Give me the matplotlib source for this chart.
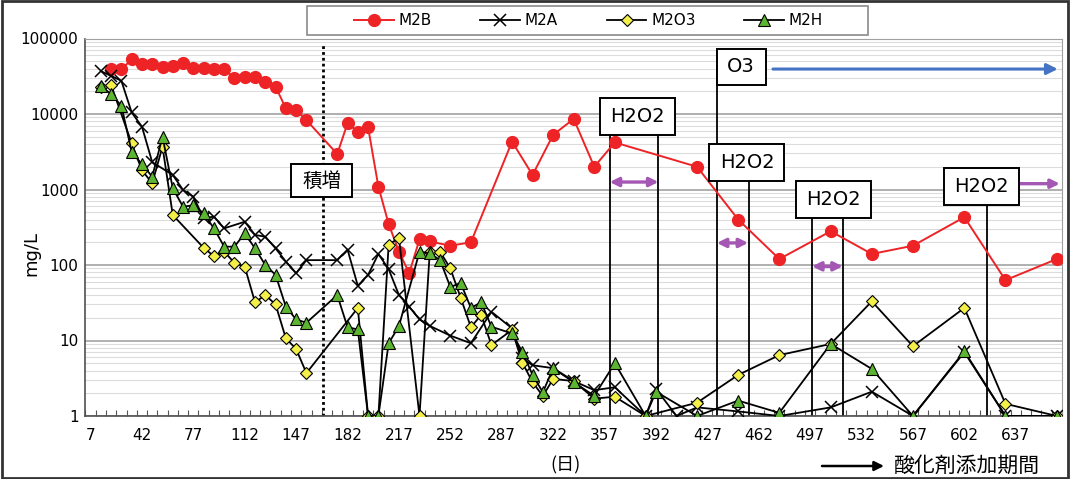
import matplotlib
matplotlib.use("Agg")
from matplotlib import pyplot as plt
from matplotlib import transforms as mtransforms
from matplotlib.patches import Rectangle
from matplotlib.lines import Line2D
from matplotlib.ticker import LogLocator, NullFormatter, FixedLocator

plt.rcParams['font.family'] = ['DejaVu Sans', 'Noto Sans CJK JP']
JP = ['Noto Sans CJK JP', 'DejaVu Sans']

# measured concentrations (mg/L) by elapsed day
days_m2b = [21, 28, 35, 42, 49, 56, 63, 70, 77, 84, 91, 98, 105, 112, 119, 126, 133, 140, 147, 154,
            175, 182, 189, 196, 203, 210, 217, 224, 231, 238, 252, 266, 294, 308, 322, 336, 350, 364, 420, 448,
            476, 511, 539, 567, 602, 630, 665]
m2b = [39000, 39000, 53000, 45500, 45500, 42300, 43700, 46800, 41000, 40300, 39000, 39000, 30200, 31200, 31200,
       26800, 23000, 11900, 11300, 8300, 2950, 7540, 5840, 6670, 1090, 349, 150, 78, 219, 205, 180, 200, 4300,
       1560, 5300, 8600, 2000, 4200, 2000, 400, 120, 280, 140, 180, 430, 63, 120]

days_m2a = [14, 21, 28, 35, 42, 49, 63, 70, 77, 84, 91, 98, 112, 119, 126, 133, 140, 147, 154, 175,
            182, 189, 196, 203, 210, 217, 224, 231, 238, 252, 266, 280, 294, 301, 308, 322, 336, 350, 364, 385,
            392, 406, 420, 448, 476, 511, 539, 567, 602, 630, 665]
m2a = [37000, 32000, 27500, 10500, 6800, 2300, 1560, 985, 804, 417, 437, 306, 374, 250, 237, 166, 111, 78, 116, 116,
       160, 53, 74, 140, 88, 40, 28, 19, 15.6, 11.6, 9.2, 24, 14.5, 5.8, 4.7, 4.3, 2.9, 2.2, 2.4, 1,
       2.3, 1, 1.3, 1.15, 1, 1.3, 2.1, 1, 7, 1, 1]

days_m2o3 = [14, 21, 35, 42, 49, 56, 63, 84, 91, 98, 105, 112, 119, 126, 133, 140, 147, 154, 189, 196,
             203, 210, 217, 231, 238, 245, 252, 259, 266, 273, 280, 294, 301, 308, 315, 322, 336, 350, 364, 385,
             420, 448, 476, 511, 539, 567, 602, 630, 665]
m2o3 = [23000, 24200, 4100, 1800, 1210, 3690, 459, 169, 131, 150, 107, 95, 32, 40, 30, 10.7, 7.7, 3.7, 27, 1,
        1, 185, 230, 1, 150, 150, 90, 37, 15, 21.8, 8.7, 13.8, 5.1, 2.8, 1.84, 3.1, 2.9, 1.7, 1.8, 1,
        1.5, 3.5, 6.4, 9, 33, 8.4, 27, 1.45, 1]

days_m2h = [14, 21, 28, 35, 42, 49, 56, 63, 70, 77, 84, 91, 98, 105, 112, 119, 126, 133, 140, 147,
            154, 175, 182, 189, 196, 203, 210, 217, 231, 238, 245, 252, 259, 266, 273, 280, 294, 301, 308, 315,
            322, 336, 350, 364, 385, 392, 420, 448, 476, 511, 539, 567, 602, 630, 665]
m2h = [23700, 18200, 12900, 3160, 2160, 1480, 5000, 1040, 590, 620, 484, 306, 175, 175, 263, 166, 100, 74, 28, 19,
       17.2, 40, 15, 14, 1, 1, 9.2, 15.5, 150, 143, 116, 51, 58, 27, 32, 15.2, 12.4, 7.1, 3.5, 2.06,
       4.3, 2.8, 1.85, 5.0, 1, 2.1, 1, 1.6, 1.1, 9, 4.2, 1, 7.2, 1, 1]

tick_days = list(range(7, 638, 35))
y_ticks = [1, 10, 100, 1000, 10000, 100000]

# oxidant dosing periods: (label, box centre day, box centre value, line days)
h2o2_periods = [
    ("H2O2", 379.5, 9400, [360.5, 393.7]),
    ("H2O2", 454.0, 2300, [455.1]),
    ("H2O2", 512.6, 740, [498.4, 519.2]),
    ("H2O2", 613.6, 1096, [617.7]),
]

RED = '#ee2326'
PURPLE = '#a458b4'
BLUE = '#4472c4'

fig = plt.figure(figsize=(10.7, 4.79), dpi=100)
ax = fig.add_axes([85.4 / 1070, 1 - 416 / 479, (1062 - 85.4) / 1070, (416 - 38.5) / 479])
ax.set_yscale('log')
ax.set_xlim(3.5, 668.5)
ax.set_ylim(1, 1e5)

ax.plot(days_m2b, m2b, color=RED, lw=1.4, marker='o', ms=8.5, mec=RED, mfc=RED, zorder=3, label='M2B')
ax.plot(days_m2a, m2a, color='black', lw=1.3, marker='x', ms=8, mew=1.1, zorder=3, label='M2A')
ax.plot(days_m2o3, m2o3, color='black', lw=1.3, marker='D', ms=6.5, mfc='#f4f04a', mec='black', mew=0.8,
        zorder=3, label='M2O3')
ax.plot(days_m2h, m2h, color='black', lw=1.3, marker='^', ms=8.5, mfc='#5cb531', mec='black', mew=0.8,
        zorder=3, label='M2H')


def label_box(day, val, text, w, h, fontsize=14, family=None):
    trans = fig.dpi_scale_trans + mtransforms.ScaledTranslation(day, val, ax.transData)
    ax.add_patch(Rectangle((-w / 200, -h / 200), w / 100, h / 100, transform=trans,
                           fc='white', ec='black', lw=1.4, zorder=6, clip_on=False))
    ax.text(day, val, text, ha='center', va='center', fontsize=fontsize, zorder=7,
            family=family if family else ['DejaVu Sans'])


# accumulation start
ax.vlines(165.5, 1, 82000, colors='black', linestyles=(0, (1, 1.1)), lw=2, zorder=2)
label_box(164.3, 1300, '積増', 61, 33, fontsize=14, family=JP)

# H2O2 dosing periods
for name, bday, bval, lines in h2o2_periods:
    for d in lines:
        ax.vlines(d, 1, bval, colors='black', lw=1.3, zorder=2)
    label_box(bday, bval, name, 75, 37)

# O3 dosing
ax.vlines(433.3, 1, 42000, colors='black', lw=1.3, zorder=2)
label_box(450.0, 42000, 'O3', 49, 36)
ax.annotate('', xy=(667.5, 39400), xytext=(469.8, 39400),
            arrowprops=dict(arrowstyle='-|>', color=BLUE, lw=2.2, mutation_scale=16), zorder=5)

# purple arrows marking H2O2 dosing spans
for x0, x1, yv in [(360.5, 393.7, 1256), (433.5, 454.8, 196), (498.3, 519.2, 96)]:
    ax.annotate('', xy=(x1, yv), xytext=(x0, yv),
                arrowprops=dict(arrowstyle='<|-|>', color=PURPLE, lw=2.4, mutation_scale=13,
                                shrinkA=0, shrinkB=0), zorder=5)
ax.annotate('', xy=(667.0, 1194), xytext=(639.2, 1194),
            arrowprops=dict(arrowstyle='-|>', color=PURPLE, lw=2.4, mutation_scale=13,
                            shrinkA=0, shrinkB=0), zorder=5)

# axes styling
ax.set_yticks(y_ticks)
ax.set_yticklabels([str(v) for v in y_ticks], fontsize=11)
ax.yaxis.set_minor_locator(LogLocator(subs=range(2, 10)))
ax.yaxis.set_minor_formatter(NullFormatter())
ax.grid(axis='y', which='major', color='#9a9a9a', lw=1.1)
ax.grid(axis='y', which='minor', color='#dcdcdc', lw=0.8)
ax.tick_params(axis='y', which='both', length=0, pad=5)

ax.set_xticks(tick_days)
ax.set_xticklabels([str(d) for d in tick_days], fontsize=11)
ax.xaxis.set_minor_locator(FixedLocator([3.5 + 7 * k for k in range(96)]))
ax.tick_params(axis='x', which='major', length=0, pad=9)
ax.tick_params(axis='x', which='minor', direction='in', length=4, color='#555555', width=0.8)

for side in ['top', 'right']:
    ax.spines[side].set_color('#a0a0a0')
for side in ['left', 'bottom']:
    ax.spines[side].set_color('#505050')
    ax.spines[side].set_linewidth(1.2)

# y-axis title sits between the frame and the tick labels
fig.text(31 / 1070, 1 - 253 / 479, 'mg/L', rotation=90, ha='center', va='center', fontsize=13)

# legend
handles = [
    Line2D([], [], color=RED, lw=1.4, marker='o', ms=8.5, mec=RED, mfc=RED),
    Line2D([], [], color='black', lw=1.3, marker='x', ms=8, mew=1.1),
    Line2D([], [], color='black', lw=1.3, marker='D', ms=6.5, mfc='#f4f04a', mec='black', mew=0.8),
    Line2D([], [], color='black', lw=1.3, marker='^', ms=8.5, mfc='#5cb531', mec='black', mew=0.8),
]
fig.legend(handles, ['M2B', 'M2A', 'M2O3', 'M2H'], loc='center', bbox_to_anchor=(588.5 / 1070, 1 - 20.5 / 479),
           ncol=4, frameon=False, fontsize=11, handlelength=2.6, handletextpad=0.3, columnspacing=3.2)
fig.patches.append(Rectangle((307 / 1070, 1 - 35 / 479), 561 / 1070, 29 / 479, transform=fig.transFigure,
                             fill=False, ec='#8a8a8a', lw=1.2))

# bottom notes
fig.text(565 / 1070, 1 - 465 / 479, '(日)', ha='center', va='center', fontsize=13, family=JP)
ax.annotate('', xy=(884 / 1070, 1 - 466 / 479), xytext=(822 / 1070, 1 - 466 / 479),
            xycoords='figure fraction', textcoords='figure fraction',
            arrowprops=dict(arrowstyle='-|>', color='black', lw=1.8, mutation_scale=14, shrinkA=0, shrinkB=0))
fig.text(894 / 1070, 1 - 466 / 479, '酸化剤添加期間', ha='left', va='center', fontsize=15, family=JP)

# outer frame
fig.patches.append(Rectangle((0.002, 0.003), 0.996, 0.994, transform=fig.transFigure,
                             fill=False, ec='#333333', lw=2))

fig.savefig('out.png', dpi=100)
